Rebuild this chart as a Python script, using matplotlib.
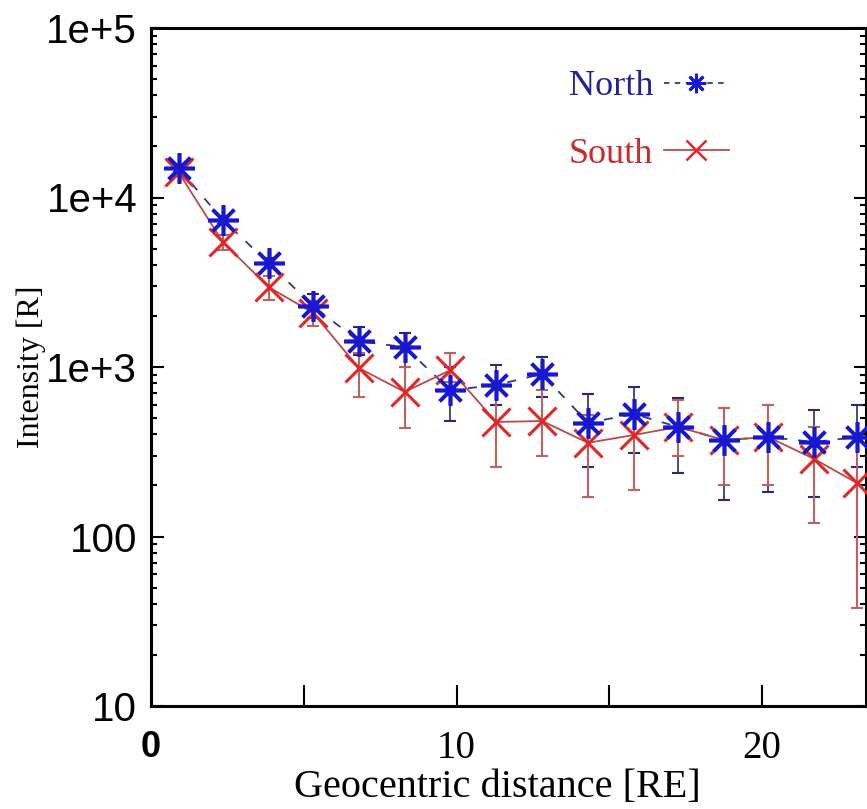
import matplotlib
matplotlib.use('Agg')
import matplotlib.pyplot as plt
import numpy as np

# distance bins [RE]
dist = [0.9, 2.35, 3.85, 5.3, 6.8, 8.3, 9.8, 11.3, 12.8, 14.3, 15.8, 17.25, 18.75, 20.2, 21.7, 23.1]

north = [14900, 7370, 4110, 2290, 1420, 1310, 730, 783, 910, 468, 528, 443, 371, 386, 361, 386]
north_hi = [15600, 7800, 4400, 2700, 1720, 1590, 1000, 1030, 1145, 693, 762, 656, 573, 597, 557, 597]
north_lo = [14200, 6950, 3850, 1950, 1180, 1000, 480, 600, 665, 257, 311, 237, 164, 183, 171, 257]

south = [14100, 5460, 2960, 2090, 986, 713, 959, 474, 480, 357, 397, 443, 371, 386, 287, 207]
south_hi = [14800, 6000, 3450, 2450, 1210, 1000, 1210, 783, 731, 520, 557, 640, 573, 597, 443, 386]
south_lo = [13400, 4900, 2500, 1750, 665, 436, 815, 257, 300, 171, 188, 300, 201, 201, 120, 38]

fig = plt.figure(figsize=(8.67, 8.09), dpi=100)
ax = fig.add_axes([151/867, 1-706/809, (866-151)/867, (706-28)/809])

n_err = [np.array(north) - np.array(north_lo), np.array(north_hi) - np.array(north)]
s_err = [np.array(south) - np.array(south_lo), np.array(south_hi) - np.array(south)]

ax.errorbar(dist, north, yerr=n_err, fmt='none', ecolor='#2a2a70', elinewidth=1.2,
            capsize=4, capthick=1.5, zorder=2)
ax.errorbar(dist, south, yerr=s_err, fmt='none', ecolor='#c06060', elinewidth=1.5,
            capsize=4, capthick=1.5, zorder=2)

ax.plot(dist, north, color='#2a3a8a', ls=(0, (5, 6)), lw=1.3, zorder=3)
ax.plot(dist, south, color='#b84a4a', ls='-', lw=1.3, zorder=3)
ax.plot(dist, south, ls='none', marker='x', ms=20, mew=2.2, color='#e02828', zorder=4)
ax.plot(dist, north, ls='none', marker=(8, 2, 0), ms=22, mew=2.6, color='#1818d0', zorder=5)

ax.set_yscale('log')
ax.set_ylim(10, 1e5)
ax.set_xlim(0, 23.4)

ax.set_yticks([10, 100, 1e3, 1e4, 1e5])
ax.set_yticklabels(['10', '100', '1e+3', '1e+4', '1e+5'], family='Liberation Sans', fontsize=29)
ax.set_xticks([0, 5, 10, 15, 20])
ax.set_xticklabels(['0', '', '10', '', '20'], family='Liberation Serif', fontsize=28)
ax.get_xticklabels()[0].set_fontfamily('Liberation Sans')
ax.get_xticklabels()[0].set_fontweight('bold')
ax.get_xticklabels()[0].set_fontsize(26)

ax.tick_params(axis='y', which='major', direction='in', length=9, width=1.5, pad=10)
ax.tick_params(axis='y', which='minor', direction='in', length=4, width=1.5)
ax.tick_params(axis='x', which='major', direction='in', length=15, width=1.5, pad=17)
ax.tick_params(right=True, which='both')

for side in ['left', 'bottom', 'top', 'right']:
    ax.spines[side].set_linewidth(2.2)

ax.set_xlabel('Geocentric distance [RE]', family='Liberation Serif', fontsize=29)
ax.xaxis.set_label_coords(0.484, -0.093)
ax.set_ylabel('Intensity [R]', family='Liberation Serif', fontsize=23)
ax.yaxis.set_label_coords(-0.147, 0.5)

# legend-like labels
hN, = ax.plot([], [], color='#2a3a8a', ls=(0, (3, 3)), lw=1.3, marker=(8, 2, 0),
              ms=14, mew=2, mec='#1818d0')
hS, = ax.plot([], [], color='#b84a4a', ls='-', lw=1.3, marker='x', ms=14, mew=1.8, mec='#e02828')
leg = ax.legend([hN, hS], ['North', 'South'], loc='upper left', bbox_to_anchor=(0.584, 0.938),
                frameon=False, markerfirst=False, handlelength=1.8, handletextpad=0.3,
                borderpad=0, borderaxespad=0,
                prop={'family': 'Liberation Serif', 'size': 26}, labelspacing=0.95)
leg.get_texts()[0].set_color('#222299')
leg.get_texts()[1].set_color('#cc2a2a')

fig.savefig('out.png', dpi=100)
